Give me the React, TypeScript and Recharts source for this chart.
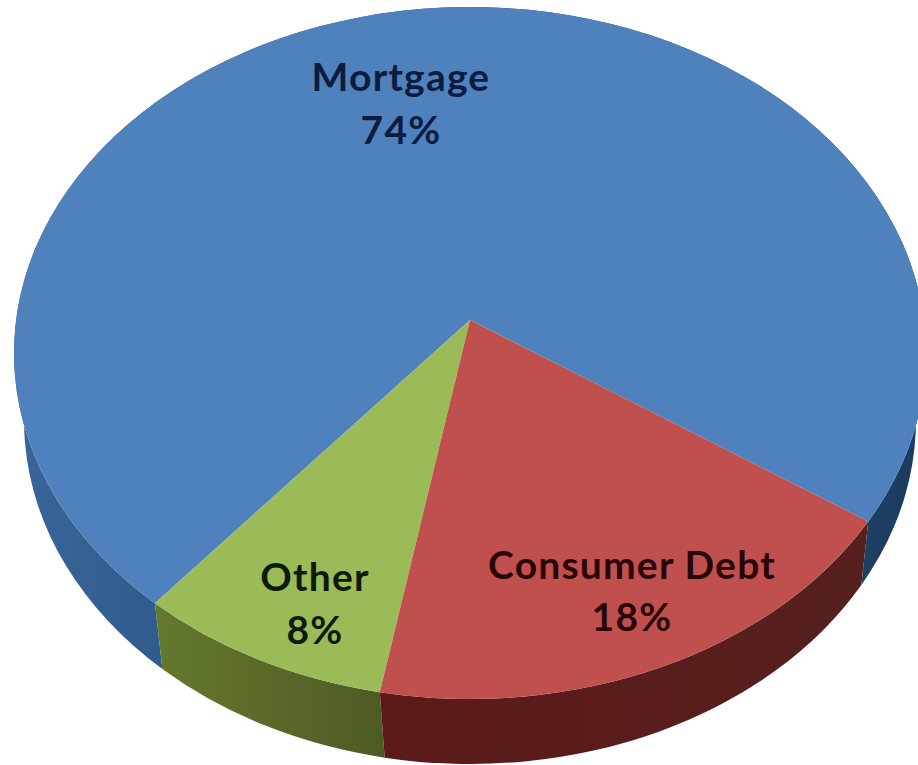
import React from 'react';
import { PieChart, Pie } from 'recharts';

const categories = ['Mortgage', 'Other', 'Consumer Debt'];
const shares = [74, 8, 18];

const topColors: Record<string, string> = {
  Mortgage: '#4f81bd',
  Other: '#9bbb59',
  'Consumer Debt': '#c0504d',
};
const wallColors: Record<string, string> = {
  Mortgage: 'url(#wallBlue)',
  Other: 'url(#wallGreen)',
  'Consumer Debt': 'url(#wallRed)',
};
const textColors: Record<string, string> = {
  Mortgage: '#0b1c40',
  Other: '#0d1a06',
  'Consumer Debt': '#2a0508',
};
const labelSpots: Record<string, { x: number; y: number; y2: number }> = {
  Mortgage: { x: 401, y: 91, y2: 144 },
  Other: { x: 315, y: 591, y2: 644 },
  'Consumer Debt': { x: 632, y: 579, y2: 631 },
};

const chartData = categories.map((name, i) => ({ name, value: shares[i] }));

// the pie is tilted: the apex sits above the middle of the ellipse
const APEX = { x: 470, y: 320 };
const TOP_RIM = { cx: 470, cy: 353, rx: 456, ry: 346 };
const LOW_RIM = { cx: 470, cy: 420, rx: 446, ry: 344 };
const LOW_APEX = { x: 474, y: 389 };
const SQUASH = 0.72;
const START_ANGLE = -35.1;

type Rim = typeof TOP_RIM;

const rimPoint = (deg: number, apex: { x: number; y: number }, rim: Rim) => {
  const rad = (deg * Math.PI) / 180;
  const dx = Math.cos(rad) / rim.rx;
  const dy = (-Math.sin(rad) * SQUASH) / rim.ry;
  const ox = (apex.x - rim.cx) / rim.rx;
  const oy = (apex.y - rim.cy) / rim.ry;
  const a = dx * dx + dy * dy;
  const b = 2 * (ox * dx + oy * dy);
  const c = ox * ox + oy * oy - 1;
  const t = (-b + Math.sqrt(b * b - 4 * a * c)) / (2 * a);
  return { x: apex.x + t * Math.cos(rad), y: apex.y - t * Math.sin(rad) * SQUASH };
};

const isLarge = (from: { x: number; y: number }, to: { x: number; y: number }, rim: Rim) => {
  const a1 = Math.atan2(-(from.y - rim.cy) / rim.ry, (from.x - rim.cx) / rim.rx);
  const a2 = Math.atan2(-(to.y - rim.cy) / rim.ry, (to.x - rim.cx) / rim.rx);
  let sweep = a2 - a1;
  while (sweep < 0) sweep += Math.PI * 2;
  return sweep > Math.PI ? 1 : 0;
};

const TopSlice = (props: any) => {
  const from = rimPoint(props.startAngle, APEX, TOP_RIM);
  const to = rimPoint(props.endAngle, APEX, TOP_RIM);
  const large = isLarge(from, to, TOP_RIM);
  const d = `M${APEX.x},${APEX.y} L${from.x},${from.y} A${TOP_RIM.rx},${TOP_RIM.ry} 0 ${large} 0 ${to.x},${to.y} Z`;
  return <path d={d} fill={topColors[props.name]} />;
};

const WallSlice = (props: any) => {
  const a = rimPoint(props.startAngle, APEX, TOP_RIM);
  const b = rimPoint(props.endAngle, APEX, TOP_RIM);
  const a2 = rimPoint(props.startAngle, LOW_APEX, LOW_RIM);
  const b2 = rimPoint(props.endAngle, LOW_APEX, LOW_RIM);
  const large = isLarge(a, b, TOP_RIM);
  const d =
    `M${a.x},${a.y} A${TOP_RIM.rx},${TOP_RIM.ry} 0 ${large} 0 ${b.x},${b.y} ` +
    `L${b2.x},${b2.y} A${LOW_RIM.rx},${LOW_RIM.ry} 0 ${large} 1 ${a2.x},${a2.y} Z`;
  return <path d={d} fill={wallColors[props.name]} />;
};

const renderLabel = (props: any) => {
  const spot = labelSpots[props.name];
  const common = {
    x: spot.x,
    textAnchor: 'middle' as const,
    fontFamily: 'Lato, sans-serif',
    fontWeight: 700,
    fontSize: 39,
    letterSpacing: 1.2,
    fill: textColors[props.name],
  };
  return (
    <g key={props.name}>
      <text {...common} y={spot.y}>{props.name}</text>
      <text {...common} y={spot.y2}>{`${props.value}%`}</text>
    </g>
  );
};

export default function App() {
  return (
    <div style={{ position: 'absolute', left: 0, top: 0, width: 918, height: 765, overflow: 'hidden', background: '#fff' }}>
      <PieChart width={918} height={765} margin={{ top: 0, right: 0, bottom: 0, left: 0 }}>
        <defs>
          <linearGradient id="wallBlue" gradientUnits="userSpaceOnUse" x1="14" y1="0" x2="918" y2="0">
            <stop offset="0" stopColor="#3a6599" />
            <stop offset="0.16" stopColor="#2f5b8d" />
            <stop offset="0.9" stopColor="#1f4368" />
            <stop offset="1" stopColor="#1b3b5e" />
          </linearGradient>
          <linearGradient id="wallGreen" gradientUnits="userSpaceOnUse" x1="156" y1="0" x2="386" y2="0">
            <stop offset="0" stopColor="#65792d" />
            <stop offset="1" stopColor="#4d5a24" />
          </linearGradient>
          <linearGradient id="wallRed" gradientUnits="userSpaceOnUse" x1="386" y1="0" x2="868" y2="0">
            <stop offset="0" stopColor="#5c1a1a" />
            <stop offset="1" stopColor="#55201e" />
          </linearGradient>
        </defs>
        <Pie
          data={chartData}
          dataKey="value"
          nameKey="name"
          cx={APEX.x}
          cy={APEX.y}
          outerRadius={400}
          startAngle={START_ANGLE}
          endAngle={START_ANGLE + 360}
          stroke="none"
          shape={WallSlice}
          isAnimationActive={false}
        />
        <Pie
          data={chartData}
          dataKey="value"
          nameKey="name"
          cx={APEX.x}
          cy={APEX.y}
          outerRadius={400}
          startAngle={START_ANGLE}
          endAngle={START_ANGLE + 360}
          stroke="none"
          shape={TopSlice}
          label={renderLabel}
          labelLine={false}
          isAnimationActive={false}
        />
      </PieChart>
    </div>
  );
}
